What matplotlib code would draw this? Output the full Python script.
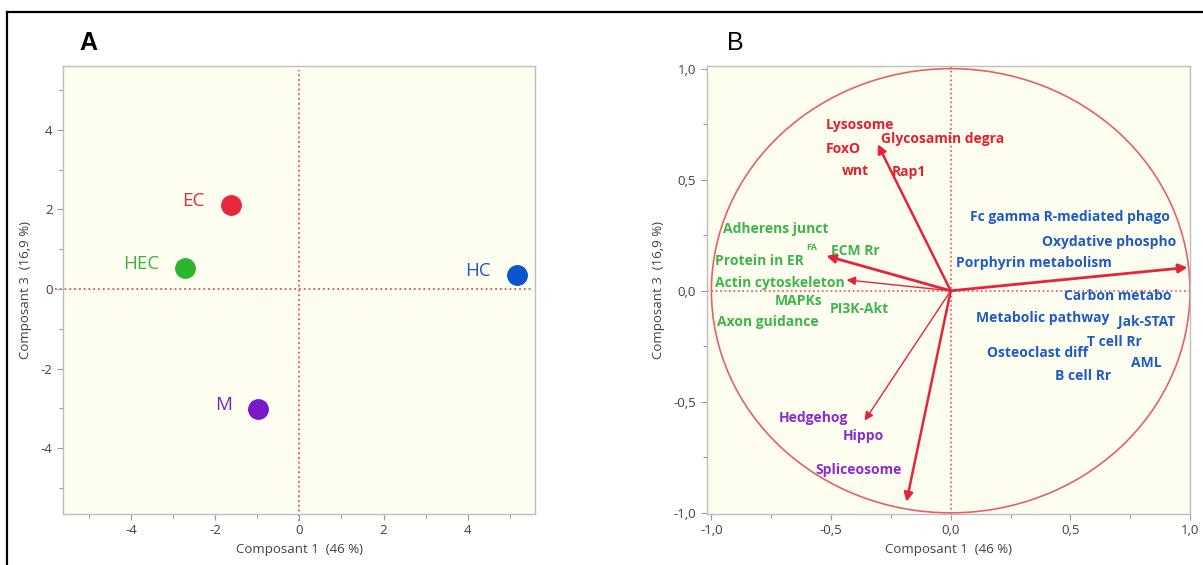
import numpy as np
import matplotlib
matplotlib.use("Agg")
import matplotlib.pyplot as plt
from matplotlib.lines import Line2D
from matplotlib.patches import Circle

# -------------------------------
# 1. Data
# -------------------------------
# panel A : individuals (scores)
groups = ['EC', 'HEC', 'HC', 'M']
comp1 = [-1.63, -2.72, 5.18, -0.98]
comp3 = [2.11, 0.52, 0.36, -3.02]
group_colors = ['#E8283C', '#2DB52D', '#0B55CF', '#7A18CC']
label_colors = ['#D92F45', '#3CB43C', '#2457C0', '#7422C4']

# panel B : loadings (arrows)
arrow_x = [-0.305, -0.52, -0.435, 0.99, -0.36, -0.185]
arrow_y = [0.66, 0.157, 0.049, 0.105, -0.585, -0.95]
arrow_lw = [1.8, 2.0, 1.0, 2.0, 1.0, 1.8]

# pathway labels
paths = ['Lysosome', 'Glycosamin degra', 'FoxO', 'wnt', 'Rap1',
         'Adherens junct', 'FA', 'ECM Rr', 'Protein in ER', 'Actin cytoskeleton',
         'MAPKs', 'PI3K-Akt', 'Axon guidance',
         'Fc gamma R-mediated phago', 'Oxydative phospho', 'Porphyrin metabolism',
         'Carbon metabo', 'Metabolic pathway', 'Jak-STAT', 'T cell Rr',
         'Osteoclast diff', 'AML', 'B cell Rr',
         'Hedgehog', 'Hippo', 'Spliceosome']
path_x = [-0.378, -0.032, -0.448, -0.397, -0.174,
          -0.73, -0.58, -0.40, -0.80, -0.713,
          -0.637, -0.383, -0.763,
          0.498, 0.663, 0.349,
          0.70, 0.386, 0.82, 0.684,
          0.365, 0.818, 0.555,
          -0.574, -0.367, -0.386]
path_y = [0.747, 0.682, 0.638, 0.541, 0.536,
          0.278, 0.193, 0.178, 0.132, 0.036,
          -0.048, -0.081, -0.142,
          0.331, 0.218, 0.124,
          -0.024, -0.121, -0.139, -0.231,
          -0.28, -0.325, -0.385,
          -0.574, -0.655, -0.805]
path_group = ['red'] * 5 + ['green'] * 8 + ['blue'] * 10 + ['purple'] * 3
path_colors = {'red': '#E8202E', 'green': '#3DB54A', 'blue': '#1F5BC4', 'purple': '#8A2BD2'}

# -------------------------------
# 2. Figure
# -------------------------------
plt.rcParams['font.family'] = ['Open Sans', 'DejaVu Sans']
plt.rcParams['axes.unicode_minus'] = False
bg = '#FEFEF0'
grey = '#404040'
ref_red = '#E0506A'

fig = plt.figure(figsize=(12.03, 5.65), dpi=100)
axA = fig.add_axes([0.0524, 0.0903, 0.3923, 0.7929])
axB = fig.add_axes([0.5874, 0.0903, 0.4018, 0.7929])

for ax in (axA, axB):
    ax.set_facecolor(bg)
    for s in ax.spines.values():
        s.set_color('#BDBDBD')
        s.set_linewidth(1.0)
    ax.tick_params(which='both', colors='#9A9A9A', labelcolor=grey, labelsize=9.5, length=4, width=0.8)
    ax.tick_params(which='minor', length=3)

# -------------------------------
# 3. Panel A
# -------------------------------
axA.set_xlim(-5.62, 5.6)
axA.set_ylim(-5.65, 5.6)
axA.set_xticks([-4, -2, 0, 2, 4])
axA.set_yticks([-4, -2, 0, 2, 4])
axA.set_xticks([-5, -3, -1, 1, 3, 5], minor=True)
axA.set_yticks([-5, -3, -1, 1, 3, 5], minor=True)
axA.plot([0, 0], [-5.83, 5.5], ls=':', color=ref_red, lw=1.3, clip_on=False, zorder=1)
axA.plot([-5.8, 5.5], [0, 0], ls=':', color=ref_red, lw=1.3, clip_on=False, zorder=1)

for g, x, y, c, lc in zip(groups, comp1, comp3, group_colors, label_colors):
    axA.plot(x, y, 'o', ms=14, color=c, zorder=3)
    axA.annotate(g, (x, y), xytext=(-26, 4), textcoords='offset pixels',
                 ha='right', va='center', fontsize=13.5, color=lc)

axA.set_xlabel('Composant 1  (46 %)', fontsize=9.5, color=grey, labelpad=4)
axA.set_ylabel('Composant 3  (16,9 %)', fontsize=9.5, color=grey, labelpad=6)
fig.text(88 / 1203, 1 - 43 / 565, 'A', fontsize=18, fontweight='bold',
         family='Liberation Sans', ha='center', va='center')

# -------------------------------
# 4. Panel B
# -------------------------------
axB.set_xlim(-1.02, 1.0)
axB.set_ylim(-1.005, 1.012)
ticks = [-1.0, -0.5, 0.0, 0.5, 1.0]
axB.set_xticks(ticks)
axB.set_yticks(ticks)
axB.set_xticklabels([f'{t:.1f}'.replace('.', ',') for t in ticks])
axB.set_yticklabels([f'{t:.1f}'.replace('.', ',') for t in ticks])
axB.set_xticks([-0.75, -0.25, 0.25, 0.75], minor=True)
axB.set_yticks([-0.75, -0.25, 0.25, 0.75], minor=True)

axB.add_patch(Circle((0, 0), 1.0, fill=False, ec='#E4606E', lw=1.2, zorder=2))
axB.axvline(0, ls=':', color=ref_red, lw=1.2, zorder=1)
axB.axhline(0, ls=':', color=ref_red, lw=1.2, zorder=1)

for x, y, lw in zip(arrow_x, arrow_y, arrow_lw):
    axB.annotate('', xy=(x, y), xytext=(0, 0),
                 arrowprops=dict(arrowstyle='-|>', color='#E5243B', lw=lw,
                                 mutation_scale=13, shrinkA=0, shrinkB=0),
                 zorder=3)

for p, x, y, g in zip(paths, path_x, path_y, path_group):
    fs = 6.5 if p == 'FA' else 10
    axB.text(x, y, p, ha='center', va='center', fontsize=fs, fontweight='bold',
             color=path_colors[g], zorder=4)

axB.set_xlabel('Composant 1  (46 %)', fontsize=9.5, color=grey, labelpad=4)
axB.set_ylabel('Composant 3  (16,9 %)', fontsize=9.5, color=grey, labelpad=6)
fig.text(735 / 1203, 1 - 43 / 565, 'B', fontsize=18,
         family='Liberation Sans', ha='center', va='center')

# -------------------------------
# 5. Frame around the figure
# -------------------------------
top = 1 - 11.5 / 565
left = 6.7 / 1203
fig.add_artist(Line2D([left, 1], [top, top], color='black', lw=1.6))
fig.add_artist(Line2D([left, left], [0, top], color='black', lw=1.6))

fig.savefig('out.png', dpi=100, facecolor='white')
